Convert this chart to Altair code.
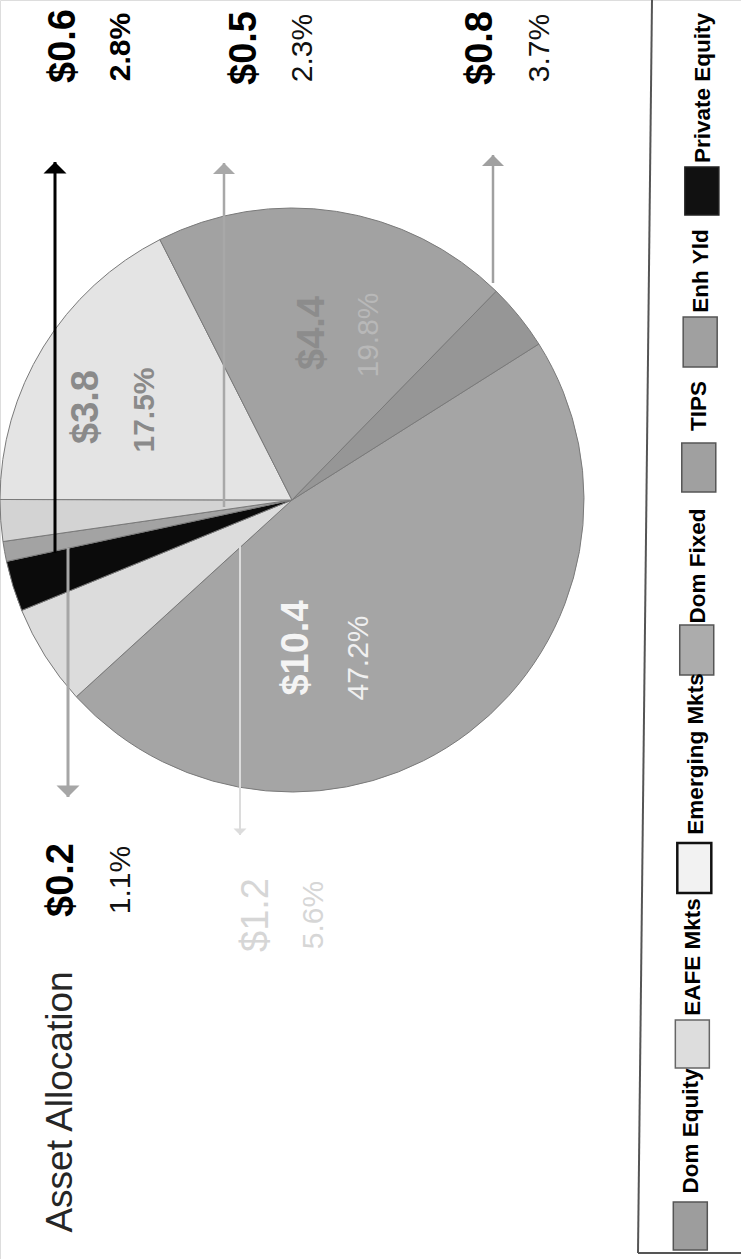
import math
import altair as alt
import pandas as pd

# ---------------- data ----------------
slice_ids = ["s_dom_fixed", "s_emerging", "s_private", "s_small_gray", "s_small_light", "s_eafe", "s_enh", "s_tips"]
slice_amount = [10.4, 1.2, 0.6, 0.2, 0.5, 3.8, 4.4, 0.8]      # $ (millions)
slice_pct = [47.2, 5.6, 2.8, 1.1, 2.3, 17.5, 19.8, 3.7]        # share of total
legend_names = ["Dom Equity", "EAFE Mkts", "Emerging Mkts", "Dom Fixed", "TIPS", "Enh Yld", "Private Equity"]
title_text = "Asset Allocation"

# ---------------- styles ----------------
FONT = "Liberation Sans, Arial, sans-serif"
slice_fill = ["#a5a5a5", "#dcdcdc", "#0b0b0b", "#a3a3a3", "#d3d3d3", "#e4e4e4", "#a2a2a2", "#969696"]
legend_fill = ["#9d9d9d", "#dddddd", "#f2f2f2", "#acacac", "#a0a0a0", "#a0a0a0", "#111111"]
legend_stroke = ["#555555", "#666666", "#111111", "#555555", "#555555", "#555555", "#222222"]
legend_sw = [1.5, 1.5, 2.5, 1.5, 1.5, 1.5, 1.5]
amt_col = ["#f4f4f4", "#d6d6d6", "#000000", "#000000", "#000000", "#8a8a8a", "#8c8c8c", "#000000"]
pct_col = ["#f0f0f0", "#d6d6d6", "#000000", "#111111", "#111111", "#8a8a8a", "#b8b8b8", "#111111"]
amt_bold = [True, False, True, True, True, True, True, True]
pct_bold = [False, False, True, False, False, True, False, False]
AMT_FS, PCT_FS, TITLE_FS, LEG_FS = 38, 30, 37, 22.5

# ---------------- layout (page pixels, picture is rotated 90 deg) ----------------
W, H = 741, 1259
PIE_CX, PIE_CY, PIE_R = 292, 500, 292
THETA0 = math.radians(57.7)
amt_pos = [(297, 648), (257, 915), (64, 46), (62, 880), (245, 48), (87, 407), (313, 333), (481, 48)]
pct_pos = [(359, 658), (314, 915), (121, 47), (121, 880), (303, 48), (145, 410), (369, 335), (540, 48)]
# arrow: x, y where it leaves the slice, y of tip, colour, line width, head width
arrows = [None,
          (240, 543, 835, "#dcdcdc", 2, 13),
          (55, 553, 162, "#000000", 3, 23),
          (68, 548, 797, "#a6a6a6", 3, 23),
          (224, 507, 163, "#a8a8a8", 2.5, 22),
          None, None,
          (493, 283, 155, "#a0a0a0", 2.5, 22)]
legend_sw_y = [(1202, 1250), (1020, 1068), (843, 893), (625, 675), (443, 492), (317, 367), (167, 215)]
legend_tx_y = [1131, 957, 754, 566, 406, 271, 88]


def skew(y):
    return 14 * (1 - y / 1253)


xs = alt.Scale(domain=[0, W], range=[0, W])
ys = alt.Scale(domain=[0, H], range=[0, H])

# ---------------- pie ----------------
pie_df = pd.DataFrame({"id": slice_ids, "amount": slice_amount, "pct": slice_pct,
                       "ord": list(range(len(slice_ids)))})
pie = alt.Chart(pie_df).mark_arc(radius=PIE_R, stroke="#7a7a7a", strokeWidth=1).encode(
    theta=alt.Theta("pct:Q", stack=True, scale=alt.Scale(range=[THETA0, THETA0 + 2 * math.pi])),
    order=alt.Order("ord:Q", sort="ascending"),
    color=alt.Color("id:N", scale=alt.Scale(domain=slice_ids, range=slice_fill), legend=None),
    x=alt.value(PIE_CX), y=alt.value(PIE_CY),
)

# ---------------- arrows ----------------
arrow_rows, head_up, head_down = [], [], []
for a in arrows:
    if a is None:
        continue
    x, y0, tip, col, lw, hw = a
    arrow_rows.append({"x": x, "y": y0, "y2": tip, "c": col, "w": lw})
    hh = hw / 2
    if tip < y0:
        head_up.append({"x": x, "y": tip + hh / 2, "c": col, "s": hw * hw})
    else:
        head_down.append({"x": x, "y": tip - hh / 2, "c": col, "s": hw * hw})

rules = alt.Chart(pd.DataFrame(arrow_rows)).mark_rule().encode(
    x=alt.X("x:Q", scale=xs, axis=None), y=alt.Y("y:Q", scale=ys, axis=None), y2="y2:Q",
    color=alt.Color("c:N", scale=None), strokeWidth=alt.StrokeWidth("w:Q", scale=None))

UP = "M-1,0.5L0,-0.5L1,0.5Z"
DOWN = "M-1,-0.5L0,0.5L1,-0.5Z"
heads_u = alt.Chart(pd.DataFrame(head_up)).mark_point(shape=UP, filled=True, opacity=1).encode(
    x=alt.X("x:Q", scale=xs, axis=None), y=alt.Y("y:Q", scale=ys, axis=None),
    color=alt.Color("c:N", scale=None), size=alt.Size("s:Q", scale=None))
heads_d = alt.Chart(pd.DataFrame(head_down)).mark_point(shape=DOWN, filled=True, opacity=1).encode(
    x=alt.X("x:Q", scale=xs, axis=None), y=alt.Y("y:Q", scale=ys, axis=None),
    color=alt.Color("c:N", scale=None), size=alt.Size("s:Q", scale=None))

# ---------------- labels ----------------
rows = []
for i in range(len(slice_ids)):
    rows.append({"t": f"${slice_amount[i]:.1f}", "x": amt_pos[i][0], "y": amt_pos[i][1],
                 "c": amt_col[i], "fs": AMT_FS, "bold": amt_bold[i]})
    rows.append({"t": f"{slice_pct[i]:.1f}%", "x": pct_pos[i][0], "y": pct_pos[i][1],
                 "c": pct_col[i], "fs": PCT_FS, "bold": pct_bold[i]})
rows.append({"t": title_text, "x": 61, "y": 1102, "c": "#262626", "fs": TITLE_FS, "bold": False})
lab_df = pd.DataFrame(rows)


def text_layer(df, weight):
    return alt.Chart(df).mark_text(angle=270, align="center", baseline="middle", font=FONT,
                                   fontWeight=weight).encode(
        x=alt.X("x:Q", scale=xs, axis=None), y=alt.Y("y:Q", scale=ys, axis=None),
        text="t:N", color=alt.Color("c:N", scale=None), size=alt.Size("fs:Q", scale=None))


bold_txt = text_layer(lab_df[lab_df["bold"]], "bold")
norm_txt = text_layer(lab_df[~lab_df["bold"]], "normal")

# ---------------- legend (drawn by hand, rotated) ----------------
sw_rows, lt_rows = [], []
for i, name in enumerate(legend_names):
    y0, y1 = legend_sw_y[i]
    k = skew((y0 + y1) / 2)
    sw_rows.append({"x": 673 + k, "x2": 707 + k, "y": y0, "y2": y1, "f": legend_fill[i],
                    "s": legend_stroke[i], "w": legend_sw[i]})
    ty = legend_tx_y[i]
    lt_rows.append({"t": name, "x": 690 + skew(ty), "y": ty})
swatches = alt.Chart(pd.DataFrame(sw_rows)).mark_rect().encode(
    x=alt.X("x:Q", scale=xs, axis=None), x2="x2:Q",
    y=alt.Y("y:Q", scale=ys, axis=None), y2="y2:Q",
    fill=alt.Fill("f:N", scale=None), stroke=alt.Stroke("s:N", scale=None),
    strokeWidth=alt.StrokeWidth("w:Q", scale=None))
leg_txt = alt.Chart(pd.DataFrame(lt_rows)).mark_text(
    angle=270, align="center", baseline="middle", font=FONT, fontWeight="bold",
    fontSize=LEG_FS, color="#000000").encode(
    x=alt.X("x:Q", scale=xs, axis=None), y=alt.Y("y:Q", scale=ys, axis=None), text="t:N")

box_df = pd.DataFrame([{"x": 652, "x2": 638, "y": 0, "y2": 1253},
                       {"x": 638, "x2": 741, "y": 1253, "y2": 1253}])
box = alt.Chart(box_df).mark_rule(color="#555555", strokeWidth=2).encode(
    x=alt.X("x:Q", scale=xs, axis=None), x2="x2:Q",
    y=alt.Y("y:Q", scale=ys, axis=None), y2="y2:Q")

chart = alt.layer(pie, rules, heads_u, heads_d, bold_txt, norm_txt, box, swatches, leg_txt).properties(
    width=W, height=H, padding=0, autosize=alt.AutoSizeParams(type="none")
).configure_view(stroke=None).configure(background="white")

chart.save("out.html", embed_options={"renderer": "svg", "actions": False})
